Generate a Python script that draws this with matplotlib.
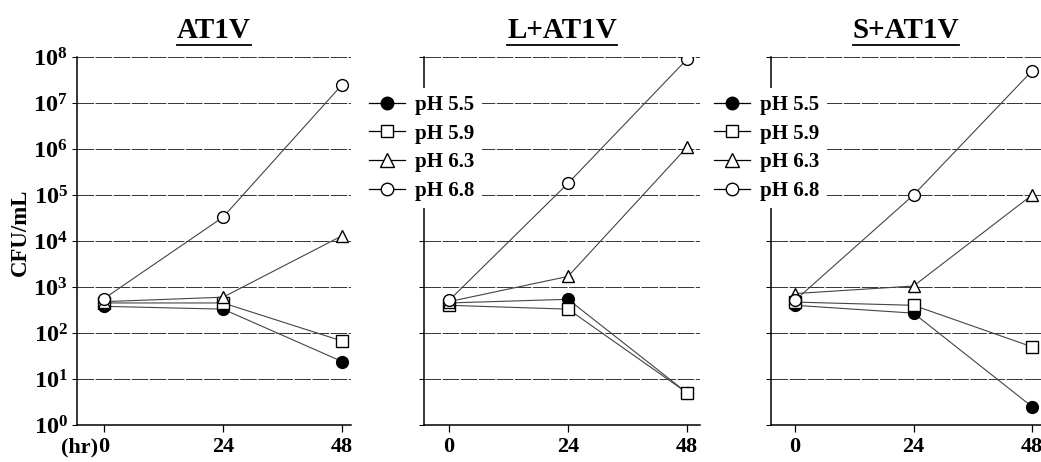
import numpy as np
import matplotlib
matplotlib.use("Agg")
import matplotlib.pyplot as plt
from matplotlib.ticker import FixedLocator, NullLocator
from matplotlib.lines import Line2D

plt.rcParams['font.family'] = ['Liberation Serif', 'DejaVu Serif']
plt.rcParams['font.weight'] = 'bold'
plt.rcParams['mathtext.fontset'] = 'custom'
plt.rcParams['mathtext.rm'] = 'Liberation Serif:bold'
plt.rcParams['mathtext.it'] = 'Liberation Serif:bold'
plt.rcParams['mathtext.bf'] = 'Liberation Serif:bold'

# time points (hr)
hours = [0, 24, 48]
titles = ["AT1V", "L+AT1V", "S+AT1V"]
ph_labels = ["pH 5.5", "pH 5.9", "pH 6.3", "pH 6.8"]

# CFU/mL, one list per panel and pH
at1v_55 = [380, 330, 24]
at1v_59 = [450, 450, 67]
at1v_63 = [480, 600, 13000]
at1v_68 = [560, 33000, 2.5e7]

lat1v_55 = [450, 540, 5]
lat1v_59 = [400, 330, 5]
lat1v_63 = [480, 1700, 1.1e6]
lat1v_68 = [510, 1.8e5, 9e7]

sat1v_55 = [400, 270, 2.5]
sat1v_59 = [470, 400, 50]
sat1v_63 = [720, 1050, 1e5]
sat1v_68 = [510, 1e5, 5e7]

panels = [
    [at1v_55, at1v_59, at1v_63, at1v_68],
    [lat1v_55, lat1v_59, lat1v_63, lat1v_68],
    [sat1v_55, sat1v_59, sat1v_63, sat1v_68],
]

markers = ['o', 's', '^', 'o']
faces = ['black', 'white', 'white', 'white']
msizes = [8.5, 8.5, 9, 8.5]

W, H = 1041, 462
fig = plt.figure(figsize=(W / 100, H / 100), dpi=100)

# axes boxes in pixels: left, right, and x-limits
boxes = [(77, 351, -5.45, 49.8), (424, 700, -5.04, 50.6), (771, 1041, -4.86, 49.8)]
top, bottom = 57, 425

axes = []
for i, (l, r, x0, x1) in enumerate(boxes):
    ax = fig.add_axes([l / W, (H - bottom) / H, (r - l) / W, (bottom - top) / H])
    axes.append(ax)
    ax.set_yscale('log')
    ax.set_ylim(1, 1e8)
    ax.set_xlim(x0, x1)
    ax.yaxis.set_major_locator(FixedLocator([10.0 ** k for k in range(9)]))
    ax.yaxis.set_minor_locator(NullLocator())
    if i == 0:
        ax.set_yticklabels([r'$10^{%d}$' % k for k in range(9)])
    else:
        ax.set_yticklabels([])
    ax.set_xticks(hours)
    ax.set_xticklabels([str(h) for h in hours])
    ax.tick_params(axis='y', length=3.6, width=0.75, pad=3.0, labelsize=17.5)
    ax.tick_params(axis='x', length=5, width=0.9, pad=4, labelsize=16)
    ax.grid(axis='y', color='#333333', linewidth=0.7, linestyle=(0, (17, 1.6)))
    ax.spines['top'].set_visible(False)
    ax.spines['right'].set_visible(False)
    ax.spines['left'].set_linewidth(1.1)
    ax.spines['bottom'].set_linewidth(1.1)

    for j, vals in enumerate(panels[i]):
        ax.plot(hours, vals, color='#444444', linewidth=0.8, marker=markers[j],
                markersize=msizes[j], markerfacecolor=faces[j],
                markeredgecolor='black', markeredgewidth=1.0,
                label=ph_labels[j], zorder=3 + j)

    ax.set_title(titles[i], fontsize=21, fontweight='bold', pad=13.5)

axes[0].annotate('(hr)', xy=(0, 0), xycoords=axes[0].get_xaxis_transform(),
                 xytext=(-4, -9), textcoords='offset points', ha='right', va='top',
                 fontsize=16, fontweight='bold')

fig.text(20 / W, 1 - 232 / H, 'CFU/mL', rotation=90, ha='center', va='center',
         fontsize=16.5, fontweight='bold')

# legends in panels 2 and 3
for ax, lx in [(axes[1], 362), (axes[2], 707)]:
    handles = [Line2D([0], [0], color='black', linewidth=0.9, marker=markers[j],
                      markersize=msizes[j] + 0.5, markerfacecolor=faces[j],
                      markeredgecolor='black', markeredgewidth=1.0)
               for j in range(4)]
    leg = ax.legend(handles, ph_labels, loc='center left',
                    bbox_to_anchor=(lx / W, 1 - 148 / H),
                    bbox_transform=fig.transFigure, frameon=True,
                    fontsize=15, handlelength=1.7, handletextpad=0.5,
                    labelspacing=0.42, borderpad=0.35, borderaxespad=0)
    leg.get_frame().set_facecolor('white')
    leg.get_frame().set_edgecolor('none')
    leg.get_frame().set_alpha(1)
    leg.set_zorder(10)

# underline the titles
fig.canvas.draw()
renderer = fig.canvas.get_renderer()
for ax in axes:
    bb = ax.title.get_window_extent(renderer)
    y = bb.y0 - 1
    fig.add_artist(Line2D([bb.x0 / W, bb.x1 / W], [y / H, y / H],
                          transform=fig.transFigure, color='black', linewidth=1.3))

fig.savefig('out.png', dpi=100)
